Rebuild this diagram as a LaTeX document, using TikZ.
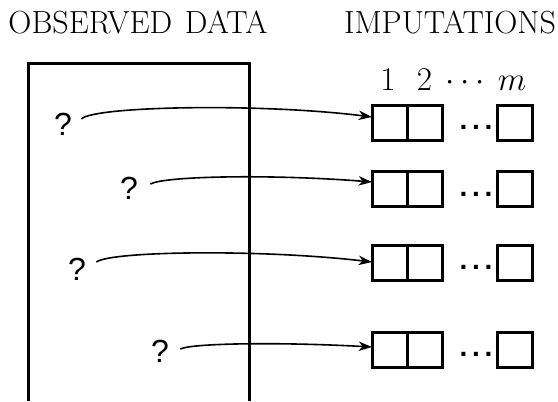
\documentclass[tikz,border=0pt]{standalone}
\usepackage{fontspec}
\setsansfont{Liberation Sans}
\usetikzlibrary{arrows.meta,positioning,calc}

\tikzset{every picture/.style={line width=0.75pt}}
\tikzset{
	heading/.style={font=\fontsize{24}{28}\selectfont, inner sep=0pt, anchor=base},
	index/.style={font=\fontsize{24.88}{28}\selectfont, inner sep=0pt, anchor=base},
	qmark/.style={font=\sffamily\fontsize{24}{28}\selectfont, inner sep=0pt},
	cell/.style={draw, line width=2.25pt, minimum width=26.25pt, minimum height=26.25pt, inner sep=0pt, outer sep=0pt},
	gap/.style={font=\sffamily\bfseries\fontsize{21}{24}\selectfont, inner sep=0pt, anchor=base},
	link/.style={line width=1.2pt, -{Stealth[length=10pt,width=7pt,inset=3pt]}}}

\begin{document}
\begin{tikzpicture}[x=0.75pt,y=0.75pt,yscale=-1,xscale=1]
	\useasboundingbox (0,0) rectangle (558,401);

	% Text Node
	\node[heading] (obs) at (138,33) {OBSERVED\hspace{0.4em}DATA};
	% Text Node
	\node[heading] (imp) at (450,33) {IMPUTATIONS};

	%Shape: Open frame
	\draw [line width=2.25pt]  (28,401) -- (28,63) -- (249,63) -- (249,401) ;

	%Shape: Rows of cells
	\node[cell] (r1a) at (389.5,122.5) {};
	\node[cell, anchor=west] (r1b) at (r1a.east) {};
	\node[cell] (r1m) at (515,122.5) {};
	\node[cell] (r2a) at (389.5,189) {};
	\node[cell, anchor=west] (r2b) at (r2a.east) {};
	\node[cell] (r2m) at (515,189) {};
	\node[cell] (r3a) at (389.5,262.5) {};
	\node[cell, anchor=west] (r3b) at (r3a.east) {};
	\node[cell] (r3m) at (515,262.5) {};
	\node[cell] (r4a) at (389.5,349.5) {};
	\node[cell, anchor=west] (r4b) at (r4a.east) {};
	\node[cell] (r4m) at (515,349.5) {};

	% Text Node
	\node[gap] (d1) at (476,129) {.\kern3.5pt.\kern3.5pt.};
	\node[gap] (d2) at (476,196) {.\kern3.5pt.\kern3.5pt.};
	\node[gap] (d3) at (476,269) {.\kern3.5pt.\kern3.5pt.};
	\node[gap] (d4) at (476,356) {.\kern3.5pt.\kern3.5pt.};

	% Text Node
	\node[index] (n1) at (388,90) {$1$};
	\node[index] (n2) at (424.5,90) {$2$};
	\node[index] (nd) at (465,90) {$\cdots$};
	\node[index] (nm) at (512,90) {$m$};

	% Text Node
	\node[qmark] (q1) at (63,124) {?};
	\node[qmark] (q2) at (129,188.5) {?};
	\node[qmark] (q3) at (77,269.5) {?};
	\node[qmark] (q4) at (160,351) {?};

	%Curves
	\draw[link] ($(q1.east)+(9,-5)$) .. controls +(12,-13) and +(-110,-14) .. ($(r1a.west)+(0,-5.5)$) ;
	\draw[link] ($(q2.east)+(12,-4.5)$) .. controls +(14,-8) and +(-100,-8) .. ($(r2a.west)+(0,-7)$) ;
	\draw[link] ($(q3.east)+(10,-7.5)$) .. controls +(14,-11) and +(-110,-13) .. ($(r3a.west)+(0,-0.5)$) ;
	\draw[link] ($(q4.east)+(11,-2)$) .. controls +(12,-6) and +(-90,-5) .. ($(r4a.west)+(0,-2.5)$) ;

\end{tikzpicture}
\end{document}
